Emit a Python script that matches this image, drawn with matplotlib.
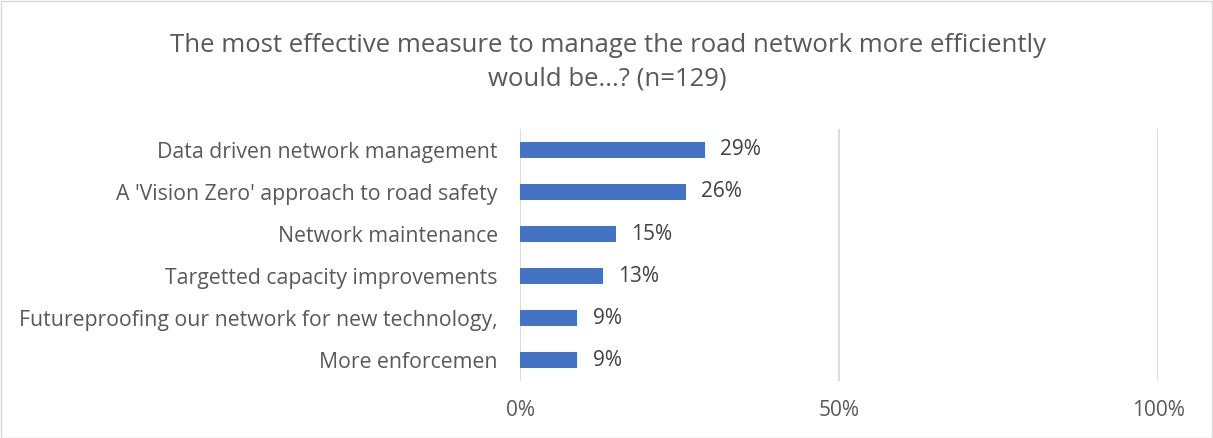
import matplotlib.pyplot as plt
from matplotlib.patches import Rectangle

categories = ['Data driven network management',
              "A 'Vision Zero' approach to road safety",
              'Network maintenance',
              'Targetted capacity improvements',
              'Futureproofing our network for new technology,',
              'More enforcemen']
values = [29, 26, 15, 13, 9, 9]
xticks = [0, 50, 100]
xtick_labels = ['0%', '50%', '100%']

plt.rcParams['font.family'] = ['Open Sans', 'DejaVu Sans']
grey = '#595959'

fig = plt.figure(figsize=(12.13, 4.38), dpi=100)
ax = fig.add_axes([0.4287, 0.1301, 0.526, 0.5754])

ypos = list(range(len(categories)))
ax.barh(ypos, values, height=0.39, color='#4472C4', zorder=3)
for y, v in zip(ypos, values):
    ax.text(v + 2.4, y, '%d%%' % v, va='center', ha='left', fontsize=15, color='#404040')

ax.set_xlim(0, 100)
ax.set_ylim(len(categories) - 0.5, -0.5)
ax.set_yticks(ypos)
ax.set_yticklabels(categories, fontsize=15.3, color=grey)
ax.set_xticks(xticks)
ax.set_xticklabels(xtick_labels, fontsize=15, color=grey)
ax.tick_params(axis='y', length=0, pad=16)
ax.tick_params(axis='x', length=0, pad=14)
ax.grid(axis='x', color='#d9d9d9', linewidth=1.3, zorder=0)
for s in ax.spines.values():
    s.set_visible(False)

fig.text(0.501, 0.925, 'The most effective measure to manage the road network more efficiently\nwould be...? (n=129)',
         ha='center', va='top', fontsize=18.5, color=grey, linespacing=1.45)

fig.patches.append(Rectangle((0.001, 0.001), 0.998, 0.997, transform=fig.transFigure,
                             fill=False, edgecolor='#d9d9d9', linewidth=1))

fig.savefig('out.png', dpi=100)
